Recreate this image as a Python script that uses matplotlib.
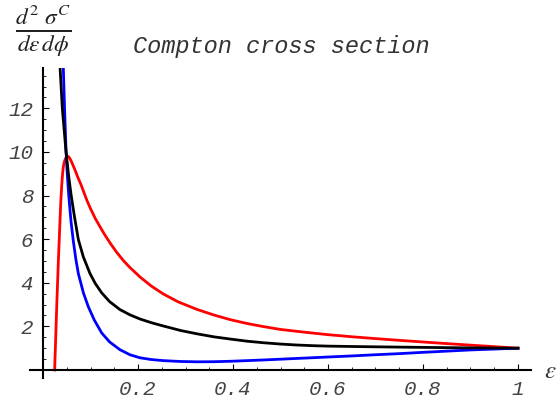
import numpy as np
import matplotlib
matplotlib.use("Agg")
import matplotlib.pyplot as plt
from matplotlib.ticker import FixedLocator

# values
black_eps = [0.034, 0.036, 0.0407, 0.0484, 0.054, 0.059, 0.066, 0.0744, 0.085, 0.099,
             0.11, 0.1235, 0.14, 0.162, 0.183, 0.204, 0.228, 0.253, 0.29, 0.324,
             0.36, 0.394, 0.43, 0.464, 0.5, 0.534, 0.57, 0.6, 0.65, 0.7,
             0.75, 0.8, 0.85, 0.9, 0.95, 1.0]
black_val = [14.6, 13.83, 11.99, 10.02, 8.89, 8.05, 7.06, 5.98, 5.18, 4.42,
             3.97, 3.54, 3.14, 2.77, 2.53, 2.34, 2.17, 2.02, 1.81, 1.66,
             1.52, 1.42, 1.32, 1.25, 1.19, 1.146, 1.114, 1.095, 1.078, 1.063,
             1.05, 1.037, 1.025, 1.015, 1.006, 1.0]

blue_eps = [0.041, 0.0428, 0.0455, 0.0484, 0.051, 0.054, 0.059, 0.0639, 0.069, 0.0744,
            0.085, 0.0954, 0.108, 0.1235, 0.14, 0.162, 0.183, 0.204, 0.228, 0.253,
            0.29, 0.324, 0.36, 0.394, 0.43, 0.464, 0.5, 0.534, 0.57, 0.604,
            0.65, 0.7, 0.75, 0.8, 0.85, 0.9, 0.95, 1.0]
blue_val = [15.2, 13.84, 11.9, 10.1, 9.0, 8.05, 6.8, 5.9, 5.1, 4.42,
            3.54, 2.9, 2.29, 1.70, 1.29, 0.93, 0.70, 0.56, 0.48, 0.43,
            0.39, 0.375, 0.38, 0.40, 0.43, 0.46, 0.495, 0.53, 0.565, 0.60,
            0.645, 0.70, 0.75, 0.81, 0.865, 0.92, 0.96, 1.0]

red_eps = [0.0245, 0.0252, 0.026, 0.0275, 0.029, 0.031, 0.0325, 0.034, 0.0355, 0.0375,
           0.0395, 0.0412, 0.043, 0.045, 0.047, 0.049, 0.051, 0.0535, 0.056, 0.059,
           0.062, 0.0674, 0.074, 0.08, 0.086, 0.092, 0.1, 0.11, 0.12, 0.13,
           0.142, 0.155, 0.17, 0.183, 0.204, 0.228, 0.253, 0.285, 0.324, 0.36,
           0.394, 0.43, 0.464, 0.5, 0.55, 0.6, 0.65, 0.7, 0.75, 0.8,
           0.85, 0.9, 0.95, 1.0]
red_val = [0.0, 0.5, 1.0, 2.0, 3.0, 4.2, 5.1, 5.9, 6.7, 7.75,
           8.5, 9.0, 9.35, 9.55, 9.68, 9.76, 9.8, 9.79, 9.72, 9.6,
           9.45, 9.17, 8.8, 8.5, 8.15, 7.8, 7.4, 6.95, 6.57, 6.2,
           5.8, 5.4, 5.0, 4.7, 4.27, 3.85, 3.49, 3.12, 2.78, 2.52,
           2.31, 2.13, 1.99, 1.86, 1.735, 1.62, 1.525, 1.44, 1.36, 1.285,
           1.21, 1.14, 1.07, 1.0]

x_ticks = [0.2, 0.4, 0.6, 0.8, 1.0]
x_labels = ["0.2", "0.4", "0.6", "0.8", "1"]
y_ticks = [2, 4, 6, 8, 10, 12]
y_labels = ["2", "4", "6", "8", "10", "12"]

plt.rcParams['mathtext.fontset'] = 'stix'

fig = plt.figure(figsize=(5.58, 4.05), dpi=100)
ax = fig.add_axes([30 / 558, 27 / 405, 501 / 558, 310 / 405])

ax.plot(red_eps, red_val, color='red', lw=2.0, solid_joinstyle='round')
ax.plot(blue_eps, blue_val, color='blue', lw=2.0, solid_joinstyle='round')
ax.plot(black_eps, black_val, color='black', lw=2.0, solid_joinstyle='round', zorder=3)

ax.set_xlim(-0.0274, 1.0274)
ax.set_ylim(-0.367, 13.85)

ax.spines['top'].set_visible(False)
ax.spines['right'].set_visible(False)
ax.spines['left'].set_position(('data', 0))
ax.spines['bottom'].set_position(('data', 0))
ax.spines['left'].set_linewidth(1.5)
ax.spines['bottom'].set_linewidth(1.5)

ax.xaxis.set_major_locator(FixedLocator(x_ticks))
ax.xaxis.set_minor_locator(FixedLocator(np.arange(0.05, 1.01, 0.05)))
ax.yaxis.set_major_locator(FixedLocator(y_ticks))
ax.yaxis.set_minor_locator(FixedLocator(np.arange(0.5, 13.6, 0.5)))
ax.set_xticklabels(x_labels)
ax.set_yticklabels(y_labels)

for lab in ax.get_xticklabels() + ax.get_yticklabels():
    lab.set_fontfamily('Liberation Mono')
    lab.set_fontstyle('italic')
    lab.set_fontsize(15)
    lab.set_color('#444444')

ax.tick_params(which='major', direction='in', length=4, width=0.8, pad=7)
ax.tick_params(which='minor', direction='in', length=2.5, width=0.6)

fig.text(281 / 558, 1 - 47 / 405, "Compton cross section", ha='center', va='center',
         family='Liberation Mono', style='italic', fontsize=17, color='#333333')
fig.text(43 / 558, 1 - 31 / 405, r'$\frac{d^2\ \sigma^C}{d\epsilon\, d\phi}$',
         ha='center', va='center', fontsize=24, color='#222222')
fig.text(550 / 558, 1 - 371 / 405, r'$\epsilon$', ha='center', va='center',
         fontsize=18, color='#333333')

fig.savefig('out.png', dpi=100)
